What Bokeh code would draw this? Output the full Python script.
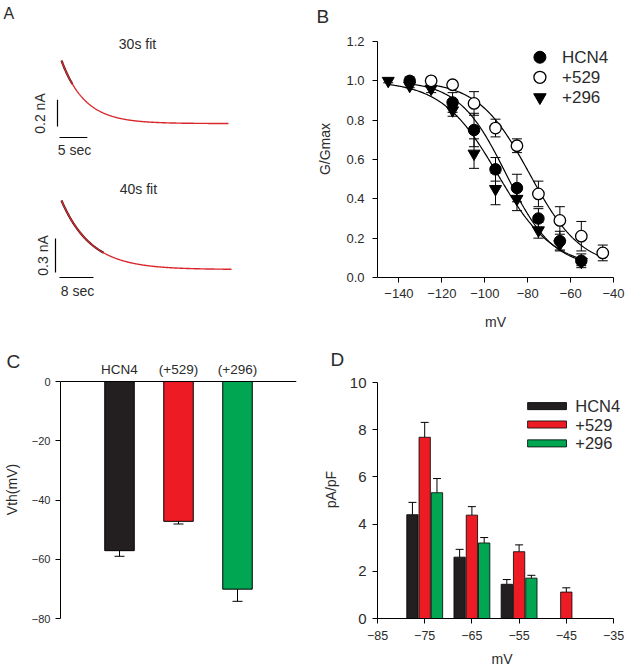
import numpy as np
from bokeh.plotting import figure
from bokeh.models import (Range1d, FactorRange, Label, Whisker, TeeHead, ColumnDataSource,
                          FixedTicker, PrintfTickFormatter, Span)
from bokeh.layouts import row, column
from bokeh.transform import dodge
from bokeh.embed import file_html
from bokeh.resources import INLINE

FONT = "Liberation Sans"
TXT = "#2b2b2b"
RED_TRACE = "#d8262c"
BLACK = "#231f20"
RED = "#ed1c24"
GREEN = "#00a651"

# ---------------- Panel A: exponential current fits ----------------
A1_TITLE = "30s fit"
A1_DURATION = 30.0   # s
A1_AMP = 0.47        # nA
A1_TAU = 4.2         # s
A1_RAW_END = 2.0     # s of visible raw trace
A1_BAR_T = 5.0       # s
A1_BAR_I = 0.2       # nA

A2_TITLE = "40s fit"
A2_DURATION = 40.0
A2_AMP = 0.61
A2_TAU = 7.0
A2_RAW_END = 10.0
A2_BAR_T = 8.0
A2_BAR_I = 0.3

# ---------------- Panel B: G/Gmax vs mV ----------------
B_V_HCN4 = [-135, -115, -105, -95, -85, -75, -65, -55]
B_G_HCN4 = [1.0, 0.89, 0.75, 0.55, 0.455, 0.30, 0.185, 0.085]
B_E_HCN4 = [0.02, 0.05, 0.085, 0.06, 0.07, 0.05, 0.05, 0.035]

B_V_529 = [-125, -115, -105, -95, -85, -75, -65, -55, -45]
B_G_529 = [1.0, 0.98, 0.885, 0.76, 0.67, 0.425, 0.29, 0.21, 0.125]
B_E_529 = [0.01, 0.01, 0.06, 0.045, 0.035, 0.065, 0.07, 0.075, 0.04]

B_V_296 = [-145, -135, -125, -115, -105, -95, -85, -75, -65, -55]
B_G_296 = [1.0, 0.975, 0.96, 0.85, 0.63, 0.45, 0.40, 0.24, 0.17, 0.08]
B_E_296 = [0.01, 0.01, 0.02, 0.03, 0.075, 0.08, 0.06, 0.04, 0.03, 0.02]

# Boltzmann fit parameters (V1/2, slope k, fitted span)
FIT_HCN4 = (-90.0, 11.0, -135, -55)
FIT_529 = (-79.0, 12.0, -125, -45)
FIT_296 = (-94.0, 13.0, -145, -55)
FIT_BOTTOM = 0.05

B_LEGEND = ["HCN4", "+529", "+296"]

# ---------------- Panel C: Vth ----------------
C_CATS = ["HCN4", "(+529)", "(+296)"]
C_VTH = [-57.1, -47.2, -70.1]
C_ERR = [1.9, 0.9, 4.1]

# ---------------- Panel D: current density ----------------
D_V = [-75, -65, -55, -45]
D_V3 = [-75, -65, -55]
D_HCN4 = [4.4, 2.6, 1.45]
D_HCN4_E = [0.52, 0.33, 0.2]
D_529 = [7.68, 4.38, 2.83, 1.12]
D_529_E = [0.63, 0.36, 0.29, 0.18]
D_296 = [5.33, 3.2, 1.71]
D_296_E = [0.6, 0.23, 0.12]
D_LEGEND = ["HCN4", "+529", "+296"]


def base_fig(w, h, xr, yr, l, r, t, b, **kw):
    p = figure(width=w, height=h, x_range=xr, y_range=yr, output_backend="svg",
               toolbar_location=None, min_border_left=l, min_border_right=r,
               min_border_top=t, min_border_bottom=b, **kw)
    p.outline_line_color = None
    p.grid.visible = False
    p.background_fill_color = "white"
    p.border_fill_color = "white"
    return p


def panel_letter(p, letter, offset, standoff):
    p.title.text = letter
    p.title.align = "left"
    p.title.offset = offset
    p.title.standoff = standoff
    p.title.text_font = FONT
    p.title.text_font_size = "19px"
    p.title.text_font_style = "normal"
    p.title.text_color = TXT


def style_axis(ax, ticks, size, standoff, label_standoff, tick_out=5):
    ax.ticker = FixedTicker(ticks=ticks)
    ax.minor_tick_line_color = None
    ax.major_tick_in = 0
    ax.major_tick_out = tick_out
    ax.axis_line_color = "black"
    ax.major_tick_line_color = "black"
    ax.major_label_text_font = FONT
    ax.major_label_text_font_size = size
    ax.major_label_text_color = TXT
    ax.major_label_standoff = standoff
    ax.axis_label_text_font = FONT
    ax.axis_label_text_font_style = "normal"
    ax.axis_label_text_font_size = "14px"
    ax.axis_label_text_color = TXT
    ax.axis_label_standoff = label_standoff


def txt(p, x, y, s, size="14px", align="center", baseline="middle", angle=0.0):
    p.add_layout(Label(x=x, y=y, text=s, text_font=FONT, text_font_size=size,
                       text_color=TXT, text_align=align, text_baseline=baseline,
                       angle=angle))


# ================= Panel A =================
def trace_panel(h, title, dur, amp, tau, raw_end, bar_t, bar_i, xr, yr, geo):
    p = base_fig(310, h, Range1d(*xr), Range1d(*yr), 0, 0, 0, 0,
                 x_axis_type=None, y_axis_type=None)
    t = np.linspace(0, dur, 400)
    cur = amp * np.exp(-t / tau)
    tr = t[t <= raw_end]
    p.line(tr, amp * np.exp(-tr / tau), line_color="#2a1414", line_width=2.2)
    p.line(t, cur, line_color=RED_TRACE, line_width=1.4)
    vx, vy0, hy, hx0, lab_i, lab_t, sec_t, sec_i, tt, ti = geo
    p.segment(x0=[vx], y0=[vy0], x1=[vx], y1=[vy0 + bar_i], line_color="black", line_width=1.2)
    p.segment(x0=[hx0], y0=[hy], x1=[hx0 + bar_t], y1=[hy], line_color="black", line_width=1.2)
    txt(p, lab_t, lab_i, f"{bar_i:.1f} nA", size="14px", angle=np.pi / 2)
    txt(p, sec_t, sec_i, f"{bar_t:.0f} sec", size="14px")
    txt(p, tt, ti, title, size="14px")
    return p


pA1 = trace_panel(165, A1_TITLE, A1_DURATION, A1_AMP, A1_TAU, A1_RAW_END, A1_BAR_T, A1_BAR_I,
                  (-10.96, 44.73), (-0.313, 0.918),
                  (-0.72, -0.022, -0.104, -0.36, 0.075, -3.95, 2.34, -0.194, 13.65, 0.597))
txt(pA1, -10.42, 0.881, "A", size="16px", align="left", baseline="top")
pA2 = trace_panel(175, A2_TITLE, A2_DURATION, A2_AMP, A2_TAU, A2_RAW_END, A2_BAR_T, A2_BAR_I,
                  (-14.35, 58.59), (-0.628, 0.9195),
                  (-1.41, -0.027, -0.071, -0.47, 0.124, -4.24, 3.76, -0.186, 18.1, 0.716))

# ================= Panel B =================
B_LEFT = 67
B_PX_PER_UNIT = 236 / 1.2
B_TOP = 20          # frame top below panel top
B_AXIS_TOP = 41     # 1.2 tick position below panel top
pB = base_fig(316, 340, Range1d(-150, -40), Range1d(0, 1.2 + (B_AXIS_TOP - B_TOP) / B_PX_PER_UNIT),
              B_LEFT, 13, B_TOP, 63)
style_axis(pB.xaxis[0], list(range(-140, -39, 20)), "13px", 6, 13)
style_axis(pB.yaxis[0], [0, 0.2, 0.4, 0.6, 0.8, 1.0, 1.2], "13px", 8, 10)
pB.yaxis[0].bounds = (0, 1.2)
pB.yaxis[0].formatter = PrintfTickFormatter(format="%.1f")
pB.xaxis.axis_label = "mV"
pB.yaxis.axis_label = "G/Gmax"
panel_letter(pB, "B", 6 - B_LEFT, -12)

for vh, k, v0, v1 in (FIT_HCN4, FIT_529, FIT_296):
    vv = np.linspace(v0, v1, 300)
    gg = FIT_BOTTOM + (1 - FIT_BOTTOM) / (1 + np.exp((vv - vh) / k))
    pB.line(vv, gg, line_color="black", line_width=1.2)

for vs, gs, es in ((B_V_HCN4, B_G_HCN4, B_E_HCN4), (B_V_529, B_G_529, B_E_529),
                   (B_V_296, B_G_296, B_E_296)):
    src = ColumnDataSource(dict(x=vs, lo=[g - e for g, e in zip(gs, es)],
                                hi=[g + e for g, e in zip(gs, es)]))
    pB.add_layout(Whisker(source=src, base="x", lower="lo", upper="hi", line_color="black",
                          line_width=1,
                          upper_head=TeeHead(size=10, line_color="black", line_width=1),
                          lower_head=TeeHead(size=10, line_color="black", line_width=1)))

pB.scatter(B_V_296, B_G_296, marker="inverted_triangle", size=12, fill_color="black",
           line_color="black")
pB.scatter(B_V_HCN4, B_G_HCN4, marker="circle", size=11.5, fill_color="black",
           line_color="black")
pB.scatter(B_V_529, B_G_529, marker="circle", size=11.5, fill_color="white",
           line_color="black", line_width=1.3)

leg_y = [1.12, 1.018, 0.916]
pB.scatter([-74.3], [leg_y[0]], marker="circle", size=12, fill_color="black", line_color="black")
pB.scatter([-74.3], [leg_y[1]], marker="circle", size=12, fill_color="white", line_color="black",
           line_width=1.3)
pB.scatter([-74.3], [leg_y[2]], marker="inverted_triangle", size=12.5, fill_color="black",
           line_color="black")
for yy, s in zip(leg_y, B_LEGEND):
    txt(pB, -64.0, yy, s, size="17px", align="left")

# ================= Panel C =================
C_LEFT, C_RIGHT = 57, 14
C_PX_PER_MV = 237 / 80
C_TOP = 20                     # frame starts this far below the panel top
C_ZERO = 41                    # zero line position below the panel top
pC = base_fig(310, 331, FactorRange(*C_CATS, range_padding=0.5, range_padding_units="absolute"),
              Range1d(-80, (C_ZERO - C_TOP) / C_PX_PER_MV), C_LEFT, C_RIGHT, C_TOP, 53,
              x_axis_type=None)
style_axis(pC.yaxis[0], [-80, -60, -40, -20, 0], "11px", 5, 9)
pC.yaxis[0].bounds = (-80, 0)
pC.yaxis.axis_label = "Vth(mV)"
pC.add_layout(Span(location=0, dimension="width", line_color="black", line_width=1))
for i, c in enumerate(C_CATS):
    txt(pC, i + 0.5, 12 / C_PX_PER_MV, c, size="13.5px")
panel_letter(pC, "C", 3 - C_LEFT, -22)

srcC = ColumnDataSource(dict(x=C_CATS, v=C_VTH, lo=[v - e for v, e in zip(C_VTH, C_ERR)],
                             c=[BLACK, RED, GREEN]))
pC.add_layout(Whisker(source=srcC, base="x", lower="lo", upper="v", line_color="black",
                      line_width=1, upper_head=None,
                      lower_head=TeeHead(size=10, line_color="black", line_width=1)))
pC.vbar(x="x", top=0, bottom="v", width=0.5, fill_color="c", line_color="black",
        line_width=1, source=srcC)

# ================= Panel D =================
D_LEFT = 67
D_PX_PER_MV = 236 / 50
D_PX_PER_UNIT = 236 / 10
D_TOP = 20
D_AXIS_TOP = 42
pD = base_fig(316, 331, Range1d(-85, -85 + (316 - D_LEFT) / D_PX_PER_MV),
              Range1d(0, 10 + (D_AXIS_TOP - D_TOP) / D_PX_PER_UNIT), D_LEFT, 0, D_TOP, 53)
style_axis(pD.xaxis[0], list(range(-85, -34, 10)), "12.5px", 7, 8)
style_axis(pD.yaxis[0], [0, 2, 4, 6, 8, 10], "15px", 6, 8)
pD.xaxis[0].bounds = (-85, -35)
pD.yaxis[0].bounds = (0, 10)
pD.xaxis.axis_label = "mV"
pD.yaxis.axis_label = "pA/pF"
panel_letter(pD, "D", 20 - D_LEFT, -18)

BW = 2.4
for vs, ys, es, col, off in ((D_V3, D_HCN4, D_HCN4_E, BLACK, -2.6), (D_V, D_529, D_529_E, RED, 0.0),
                             (D_V3, D_296, D_296_E, GREEN, 2.6)):
    src = ColumnDataSource(dict(x=vs, y=ys, hi=[y + e for y, e in zip(ys, es)]))
    pD.add_layout(Whisker(source=src, base=dodge("x", off, range=pD.x_range), lower="y",
                          upper="hi", line_color="black", line_width=1, lower_head=None,
                          upper_head=TeeHead(size=8, line_color="black", line_width=1)))
    pD.vbar(x=dodge("x", off, range=pD.x_range), top="y", width=BW, fill_color=col,
            line_color="black", line_width=0.8, source=src)

legD_y = [9.0, 8.22, 7.42]
pD.quad(left=[-53.2] * 3, right=[-44.96] * 3, bottom=[y - 0.15 for y in legD_y],
        top=[y + 0.15 for y in legD_y], fill_color=[BLACK, RED, GREEN], line_color="black",
        line_width=0.8)
for yy, s in zip(legD_y, D_LEGEND):
    txt(pD, -43.1, yy, s, size="16.5px", align="left")

layout = column(row(column(pA1, pA2), pB), row(pC, pD))

with open("out.html", "w") as f:
    f.write(file_html(layout, INLINE))
